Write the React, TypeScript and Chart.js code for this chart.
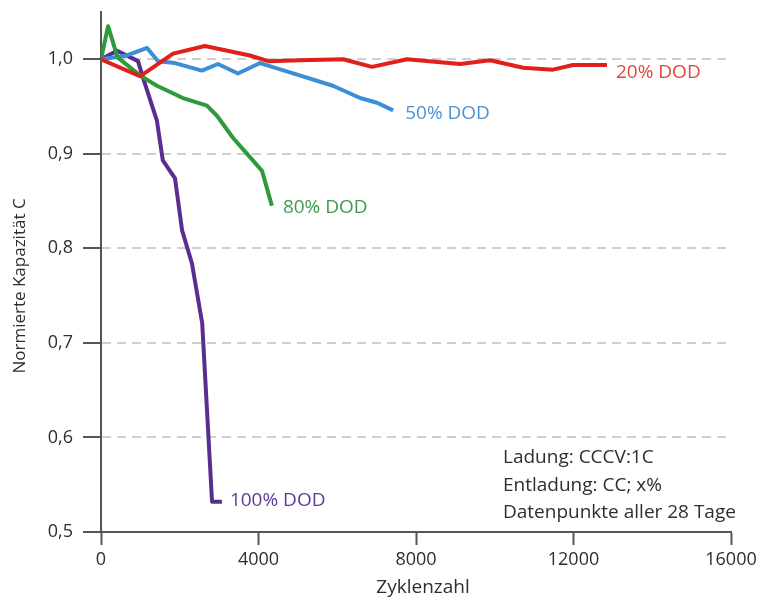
import React, { useEffect, useRef } from 'react';
import { Chart, registerables } from 'chart.js';
Chart.register(...registerables);

// Data (Zyklenzahl vs normierte Kapazität)
const dod20Cycles = [0, 990, 1830, 2640, 3780, 4250, 5050, 6150, 6880, 7770, 9120, 9880, 10720, 11480, 11990, 12850];
const dod20Cap = [1.0, 0.982, 1.006, 1.014, 1.004, 0.998, 0.999, 1.0, 0.992, 1.0, 0.995, 0.999, 0.991, 0.989, 0.994, 0.994];

const dod50Cycles = [0, 660, 1170, 1450, 1880, 2560, 2970, 3480, 4040, 4880, 5890, 6580, 7010, 7420];
const dod50Cap = [1.0, 1.004, 1.012, 0.998, 0.996, 0.988, 0.995, 0.985, 0.996, 0.985, 0.972, 0.959, 0.954, 0.946];

const dod80Cycles = [0, 180, 420, 990, 1420, 2080, 2690, 2950, 3350, 3710, 4090, 4340];
const dod80Cap = [1.0, 1.035, 1.002, 0.983, 0.972, 0.959, 0.951, 0.94, 0.917, 0.9, 0.882, 0.845];

const dod100Cycles = [0, 410, 940, 1070, 1420, 1570, 1880, 2060, 2310, 2570, 2820, 3070];
const dod100Cap = [1.0, 1.009, 0.998, 0.98, 0.935, 0.893, 0.874, 0.819, 0.784, 0.721, 0.532, 0.532];

const seriesNames = ['20% DOD', '80% DOD', '50% DOD', '100% DOD'];
const yTickValues = [0.5, 0.6, 0.7, 0.8, 0.9, 1.0];
const xTickStep = 4000;
const annotationLines = ['Ladung: CCCV:1C', 'Entladung: CC; x%', 'Datenpunkte aller 28 Tage'];
const xTitle = 'Zyklenzahl';
const yTitle = 'Normierte Kapazität C';

const FONT = '"Open Sans", "Liberation Sans", sans-serif';
const lineColors = ['#e1201c', '#2f9a3c', '#3a8fd6', '#5a2d90'];
const textColors = ['#e0463b', '#3f9b4b', '#4a93d2', '#5f3b96'];
const labelOffsets = [
  [9, 8],
  [11, 2],
  [12, 3],
  [8, -1],
];

const toPts = (xs: number[], ys: number[]) => xs.map((x, i) => ({ x, y: ys[i] }));

const overlay = {
  id: 'overlay',
  afterDraw(chart: any) {
    const { ctx } = chart;
    const xs = chart.scales.x;
    const ys = chart.scales.y;
    ctx.save();
    ctx.textAlign = 'left';
    ctx.textBaseline = 'middle';
    ctx.font = `19px ${FONT}`;
    chart.data.datasets.forEach((ds: any, i: number) => {
      const last = ds.data[ds.data.length - 1];
      const px = xs.getPixelForValue(last.x) + labelOffsets[i][0];
      const py = ys.getPixelForValue(last.y) + labelOffsets[i][1];
      ctx.fillStyle = textColors[i];
      ctx.fillText(seriesNames[i], px, py);
    });
    // annotation
    ctx.fillStyle = '#2e2e2e';
    ctx.font = `19px ${FONT}`;
    ctx.textBaseline = 'alphabetic';
    annotationLines.forEach((t, i) => {
      ctx.fillText(t, 503, 463 + i * 27.5);
    });
    // x title
    ctx.textAlign = 'center';
    ctx.textBaseline = 'middle';
    ctx.font = `19px ${FONT}`;
    ctx.fillText(xTitle, 423, 588);
    // y title
    ctx.save();
    ctx.translate(20, 286);
    ctx.rotate(-Math.PI / 2);
    ctx.font = `17px ${FONT}`;
    ctx.fillText(yTitle, 0, 0);
    ctx.restore();
    ctx.restore();
  },
};

export default function App() {
  const ref = useRef<HTMLCanvasElement>(null);
  useEffect(() => {
    document.body.style.margin = '0';
    const canvas = ref.current!;
    const series = [
      toPts(dod20Cycles, dod20Cap),
      toPts(dod80Cycles, dod80Cap),
      toPts(dod50Cycles, dod50Cap),
      toPts(dod100Cycles, dod100Cap),
    ];
    const chart = new Chart(canvas, {
      type: 'line',
      data: {
        datasets: series.map((d, i) => ({
          label: seriesNames[i],
          data: d,
          borderColor: lineColors[i],
          backgroundColor: lineColors[i],
          borderWidth: 4,
          pointRadius: 0,
          tension: 0,
          fill: false,
          borderJoinStyle: 'round' as const,
        })),
      },
      options: {
        responsive: false,
        animation: false,
        parsing: false as any,
        layout: { padding: { left: 0, top: 12, right: 29, bottom: 0 } },
        plugins: { legend: { display: false }, tooltip: { enabled: false } },
        scales: {
          x: {
            type: 'linear',
            min: 0,
            max: 16000,
            afterFit: (s: any) => { s.height = 70; s.paddingLeft = 0; s.paddingRight = 0; },
            ticks: {
              stepSize: xTickStep,
              color: '#2e2e2e',
              padding: 4,
              font: { family: FONT, size: 18 },
              callback: (v: any) => String(v),
            },
            grid: {
              drawOnChartArea: false,
              drawTicks: true,
              tickLength: 13,
              tickWidth: 2,
              tickColor: '#555',
              color: '#555',
            },
            border: { display: true, color: '#555', width: 2 },
          },
          y: {
            type: 'linear',
            min: 0.5,
            max: 1.05,
            afterFit: (s: any) => { s.width = 101; s.paddingTop = 0; s.paddingBottom = 0; },
            afterBuildTicks: (s: any) => { s.ticks = yTickValues.map((v) => ({ value: v })); },
            ticks: {
              color: '#2e2e2e',
              padding: 10,
              font: { family: FONT, size: 18 },
              callback: (v: any) => Number(v).toFixed(1).replace('.', ','),
            },
            grid: {
              drawOnChartArea: true,
              drawTicks: true,
              tickLength: 18,
              tickWidth: 2,
              tickColor: '#555',
              tickBorderDash: [],
              color: '#cfcfcf',
              lineWidth: 2,
            },
            border: { display: true, color: '#555', width: 2, dash: [9, 6] },
          },
        },
      },
      plugins: [overlay],
    });
    return () => chart.destroy();
  }, []);
  return (
    <div style={{ position: 'absolute', left: 0, top: 0, width: 760, height: 602, background: '#fff' }}>
      <canvas ref={ref} width={760} height={602} style={{ display: 'block' }} />
    </div>
  );
}
